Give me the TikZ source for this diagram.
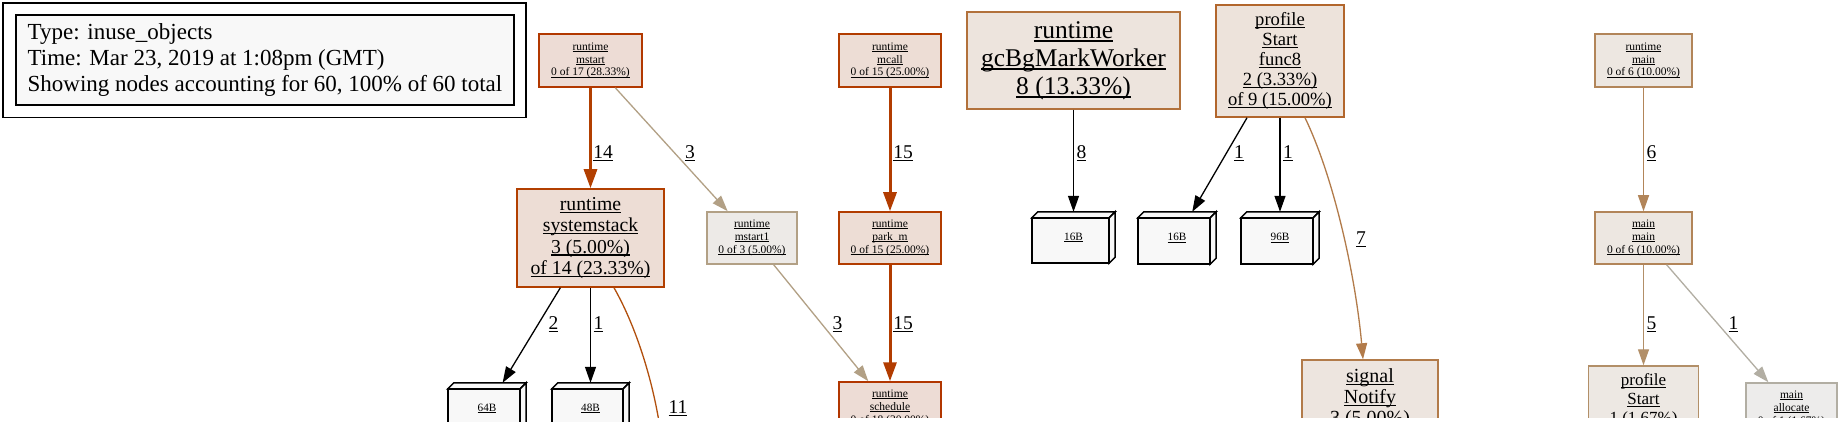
\documentclass[tikz,border=0pt]{standalone}
\usepackage{fontspec}
\setmainfont{Liberation Serif}
\usetikzlibrary{arrows.meta}
\definecolor{fmstart}{HTML}{EDDCD5}\definecolor{dmstart}{HTML}{B23800}
\definecolor{fsys}{HTML}{EDDDD5}\definecolor{dsys}{HTML}{B23F00}
\definecolor{fmcall}{HTML}{EDDDD5}\definecolor{dmcall}{HTML}{B23C00}
\definecolor{fsched}{HTML}{EDDCD5}\definecolor{dsched}{HTML}{B23600}
\definecolor{fms1}{HTML}{EDEAE7}\definecolor{dms1}{HTML}{B2A085}
\definecolor{fgc}{HTML}{EDE4DD}\definecolor{dgc}{HTML}{B2713B}
\definecolor{ff8}{HTML}{EDE3DB}\definecolor{df8}{HTML}{B2662C}
\definecolor{fsig}{HTML}{EDE5DF}\definecolor{dsig}{HTML}{B27B4A}
\definecolor{fmain}{HTML}{EDE7E1}\definecolor{dmain}{HTML}{B28559}
\definecolor{fps}{HTML}{EDE8E3}\definecolor{dps}{HTML}{B28F68}
\definecolor{falloc}{HTML}{EDECEB}\definecolor{dalloc}{HTML}{B2AEA3}
\definecolor{delev}{HTML}{B2500E}
\definecolor{tagfill}{HTML}{F8F8F8}
\newcommand{\myul}[1]{\setbox0=\hbox{#1}\rlap{\rule[-0.13em]{\wd0}{0.065em}}\box0}
\pgfdeclarelayer{bg}
\pgfsetlayers{bg,main}
\newcommand{\boxthreed}[1]{%
\begin{pgfonlayer}{bg}
\filldraw[tagline] ([yshift=-6pt]#1.north west) -- ([xshift=6pt]#1.north west) -- (#1.north east) -- ([shift={(-6pt,-6pt)}]#1.north east) -- cycle;
\filldraw[tagline] ([shift={(-6pt,-6pt)}]#1.north east) -- (#1.north east) -- ([yshift=6pt]#1.south east) -- ([xshift=-6pt]#1.south east) -- cycle;
\filldraw[tagline] ([yshift=-6pt]#1.north west) rectangle ([xshift=-6pt]#1.south east);
\end{pgfonlayer}}
\begin{document}
\begin{tikzpicture}[x=1pt,y=-1pt,
  gnode/.style={draw, line width=1.5pt, inner sep=0pt, align=center},
  fsmall/.style={font=\fontsize{11.5}{12.9}\selectfont},
  tagline/.style={draw=black, fill=tagfill, line width=1.5pt, line join=miter},
  tagnode/.style={inner sep=0pt, font=\fontsize{11.2}{13}\selectfont},
  e/.style={-{Triangle[length=16pt,width=11pt]}, line width=1.3pt},
  ethick/.style={-{Triangle[length=19pt,width=13pt]}, line width=3pt},
  lbl/.style={inner sep=0pt, text height=13pt, text depth=0pt, font=\fontsize{19.5}{21}\selectfont, text=black}]
\useasboundingbox (0,0) rectangle (1842,422);
\begin{pgfonlayer}{bg}
\fill[white] (0,0) rectangle (1842,422);
\end{pgfonlayer}
\clip (0,0) rectangle (1842,417);

% legend
\node[draw, line width=1.5pt, fill=tagfill, minimum width=498pt, minimum height=90pt, inner sep=0pt, align=left,
  font=\fontsize{23}{26}\selectfont] (legend) at (265,60)
  {Type: inuse\_objects\\Time: Mar 23, 2019 at 1:08pm (GMT)\\Showing nodes accounting for 60, 100\% of 60 total};
\draw[line width=1.5pt] ([shift={(-12.5pt,11pt)}]legend.north west) rectangle ([shift={(11pt,-12pt)}]legend.south east);

% nodes
\node[gnode, fsmall, fill=fmstart, draw=dmstart, minimum width=103pt, minimum height=53pt] (mstart) at (590.5,60.5)
  {\myul{runtime}\\\myul{mstart}\\\myul{0 of 17 (28.33\%)}};
\node[gnode, fill=fsys, draw=dsys, minimum width=147pt, minimum height=98pt, font=\fontsize{19.7}{21.3}\selectfont] (sys) at (590.5,238)
  {\myul{runtime}\\\myul{systemstack}\\\myul{3 (5.00\%)}\\\myul{of 14 (23.33\%)}};
\node[gnode, fsmall, fill=fms1, draw=dms1, minimum width=90pt, minimum height=52pt] (mstartone) at (752,238)
  {\myul{runtime}\\\myul{mstart1}\\\myul{0 of 3 (5.00\%)}};
\node[gnode, fsmall, fill=fmcall, draw=dmcall, minimum width=102pt, minimum height=53pt] (mcall) at (890,60.5)
  {\myul{runtime}\\\myul{mcall}\\\myul{0 of 15 (25.00\%)}};
\node[gnode, fsmall, fill=fmcall, draw=dmcall, minimum width=102pt, minimum height=52pt] (park) at (890,238)
  {\myul{runtime}\\\myul{park\_m}\\\myul{0 of 15 (25.00\%)}};
\node[gnode, fsmall, fill=fsched, draw=dsched, minimum width=102pt, minimum height=52pt] (sched) at (890,408)
  {\myul{runtime}\\\myul{schedule}\\\myul{0 of 18 (30.00\%)}};
\node[gnode, fill=fgc, draw=dgc, minimum width=213pt, minimum height=97pt, font=\fontsize{25.5}{28}\selectfont] (gc) at (1073.5,60.5)
  {\myul{runtime}\\\myul{gcBgMarkWorker}\\\myul{8 (13.33\%)}};
\node[gnode, fill=ff8, draw=df8, minimum width=128pt, minimum height=112pt, font=\fontsize{18.6}{20}\selectfont] (func) at (1280,61)
  {\myul{profile}\\\myul{Start}\\\myul{func8}\\\myul{2 (3.33\%)}\\\myul{of 9 (15.00\%)}};
\node[gnode, fill=fsig, draw=dsig, minimum width=136pt, minimum height=98pt, font=\fontsize{20}{21}\selectfont] (signal) at (1370,409)
  {\myul{signal}\\\myul{Notify}\\\myul{3 (5.00\%)}\\\myul{of 7 (11.67\%)}};
\node[gnode, fsmall, fill=fmain, draw=dmain, minimum width=97pt, minimum height=53pt] (rmain) at (1643.5,60.5)
  {\myul{runtime}\\\myul{main}\\\myul{0 of 6 (10.00\%)}};
\node[gnode, fsmall, fill=fmain, draw=dmain, minimum width=97pt, minimum height=52pt] (mmain) at (1643.5,238)
  {\myul{main}\\\myul{main}\\\myul{0 of 6 (10.00\%)}};
\node[gnode, fill=fps, draw=dps, minimum width=110pt, minimum height=88pt, font=\fontsize{17}{19}\selectfont] (pstart) at (1643.5,410)
  {\myul{profile}\\\myul{Start}\\\myul{1 (1.67\%)}\\\myul{of 5 (8.33\%)}};
\node[gnode, fsmall, fill=falloc, draw=dalloc, minimum width=91pt, minimum height=52pt] (alloc) at (1791.5,409)
  {\myul{main}\\\myul{allocate}\\\myul{0 of 1 (1.67\%)}};

% memory tag boxes
\node[tagnode, minimum width=78pt, minimum height=51pt] (bsixtyfour) at (487,408.5) {\myul{64B}};
\node[tagnode, minimum width=77pt, minimum height=51pt] (bfortyeight) at (590.5,408.5) {\myul{48B}};
\node[tagnode, minimum width=83pt, minimum height=51pt] (bsixteena) at (1073.5,237.5) {\myul{16B}};
\node[tagnode, minimum width=78pt, minimum height=52pt] (bsixteenb) at (1177,238) {\myul{16B}};
\node[tagnode, minimum width=78pt, minimum height=52pt] (bninetysix) at (1280,238) {\myul{96B}};
\boxthreed{bsixtyfour}
\boxthreed{bfortyeight}
\boxthreed{bsixteena}
\boxthreed{bsixteenb}
\boxthreed{bninetysix}

\coordinate (eleven) at (664,460);

% edges
\draw[ethick, draw=dsys] (mstart) -- (sys) node[lbl, at={(603,152)}] {\myul{14}};
\draw[e, draw=dms1] (mstart) -- (mstartone) node[lbl, at={(690,152)}] {\myul{3}};
\draw[ethick, draw=dmcall] (mcall) -- (park) node[lbl, at={(903,152)}] {\myul{15}};
\draw[ethick, draw=dmcall] (park) -- (sched) node[lbl, at={(903,323)}] {\myul{15}};
\draw[e, draw=dms1] (mstartone) -- (sched) node[lbl, at={(837.5,323)}] {\myul{3}};
\draw[e, black] (sys) -- (bsixtyfour) node[lbl, at={(553.5,323)}] {\myul{2}};
\draw[e, black] (sys) -- (bfortyeight) node[lbl, at={(598.5,323)}] {\myul{1}};
\draw[e, draw=delev] ([xshift=23.5pt]sys.south) .. controls (638,330) and (656,390) .. (eleven)
  node[lbl, at={(678,407)}] {\myul{11}};
\draw[e, black] (gc) -- (bsixteena) node[lbl, at={(1081.5,152)}] {\myul{8}};
\draw[e, black] (func) -- (bsixteenb) node[lbl, at={(1239,152)}] {\myul{1}};
\draw[e, black] (func) -- (bninetysix) node[lbl, at={(1288,152)}] {\myul{1}};
\draw[e, draw=dsig] ([xshift=25pt]func.south) .. controls (1335,180) and (1356,280) .. ([xshift=-7pt]signal.north)
  node[lbl, at={(1361,238)}] {\myul{7}};
\draw[e, draw=dmain] (rmain) -- (mmain) node[lbl, at={(1651.5,152)}] {\myul{6}};
\draw[e, draw=dps] (mmain) -- (pstart) node[lbl, at={(1651.5,323)}] {\myul{5}};
\draw[e, draw=dalloc] (mmain) -- (alloc) node[lbl, at={(1733.5,323)}] {\myul{1}};
\end{tikzpicture}
\end{document}
